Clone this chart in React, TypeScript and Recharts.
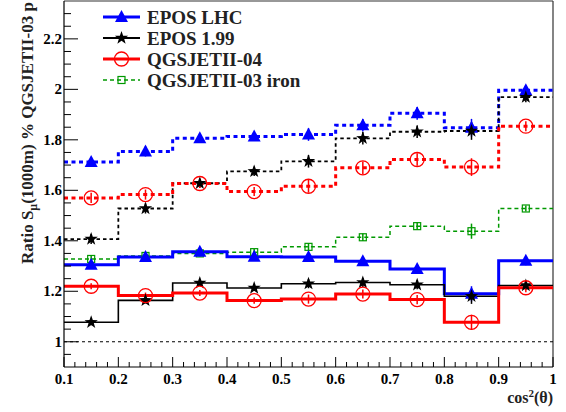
import React from 'react';
import { ComposedChart, Line, Scatter, ErrorBar, XAxis, YAxis, ReferenceLine } from 'recharts';

// histogram bins in cos^2(theta)
const binEdges = [0.1, 0.2, 0.3, 0.4, 0.5, 0.6, 0.7, 0.8, 0.9, 1.0];
const binCenters = [0.15, 0.25, 0.35, 0.45, 0.55, 0.65, 0.75, 0.85, 0.95];

// dotted curves (upper group)
const eposLhcUpper = [1.712, 1.754, 1.806, 1.813, 1.821, 1.858, 1.905, 1.848, 1.996];
const epos199Upper = [1.407, 1.528, 1.628, 1.675, 1.715, 1.806, 1.832, 1.835, 1.969];
const qgs04Upper = [1.57, 1.583, 1.627, 1.595, 1.616, 1.689, 1.722, 1.692, 1.854];
// dashed green
const qgs03Iron = [1.328, 1.34, 1.35, 1.355, 1.376, 1.414, 1.458, 1.438, 1.528];
// solid curves (lower group)
const eposLhcLower = [1.305, 1.336, 1.357, 1.337, 1.336, 1.319, 1.288, 1.19, 1.321];
const epos199Lower = [1.077, 1.164, 1.233, 1.213, 1.23, 1.235, 1.226, 1.18, 1.223];
const qgs04Lower = [1.22, 1.183, 1.193, 1.163, 1.169, 1.189, 1.167, 1.077, 1.214];

// statistical errors
const errUpper = [0.02, 0.02, 0.018, 0.018, 0.025, 0.025, 0.025, 0.035, 0.02];
const errIron = [0.012, 0.012, 0.012, 0.012, 0.015, 0.015, 0.015, 0.03, 0.012];
const errLower = [0.012, 0.012, 0.012, 0.012, 0.018, 0.018, 0.018, 0.03, 0.018];

const legendNames = ['EPOS LHC', 'EPOS 1.99', 'QGSJETII-04', 'QGSJETII-03 iron'];

const yTicks = Array.from({ length: 28 }, (_, i) => Math.round((0.95 + i * 0.05) * 100) / 100);
const xTicks = Array.from({ length: 46 }, (_, i) => Math.round((0.1 + i * 0.02) * 100) / 100);

const FONT = '"Liberation Serif", "Times New Roman", serif';
const BLUE = '#0000ff';
const RED = '#ff0000';
const GREEN = '#009900';

const lineData = binEdges.map((x, i) => {
  const k = Math.min(i, binCenters.length - 1);
  return {
    x,
    lhcU: eposLhcUpper[k],
    e199U: epos199Upper[k],
    q04U: qgs04Upper[k],
    iron: qgs03Iron[k],
    lhcL: eposLhcLower[k],
    e199L: epos199Lower[k],
    q04L: qgs04Lower[k],
  };
});

const points = (vals: number[], errs: number[]) =>
  binCenters.map((x, i) => ({ x, y: vals[i], e: errs[i] }));

const Triangle = ({ cx, cy }: any) => (
  <polygon points={`${cx},${cy - 7} ${cx - 6.5},${cy + 5} ${cx + 6.5},${cy + 5}`} fill={BLUE} />
);

const Star = ({ cx, cy }: any) => {
  const pts: string[] = [];
  for (let i = 0; i < 10; i++) {
    const r = i % 2 === 0 ? 7 : 2.8;
    const a = -Math.PI / 2 + (i * Math.PI) / 5;
    pts.push(`${cx + r * Math.cos(a)},${cy + r * Math.sin(a)}`);
  }
  return <polygon points={pts.join(' ')} fill="#000" />;
};

const OpenCircle = ({ cx, cy }: any) => (
  <circle cx={cx} cy={cy} r={7} fill="none" stroke={RED} strokeWidth={1.3} />
);

const OpenSquare = ({ cx, cy }: any) => (
  <rect x={cx - 3.5} y={cy - 3.5} width={7} height={7} fill="none" stroke={GREEN} strokeWidth={1.2} />
);

const YTick = ({ x, y, payload }: any) => {
  const v = payload.value;
  const major = Math.abs(v * 5 - Math.round(v * 5)) < 1e-6;
  return (
    <g>
      <line x1={x} x2={x + (major ? 14 : 7)} y1={y} y2={y} stroke="#000" strokeWidth={1} />
      {major && (
        <text x={x - 2} y={y} dy={5} textAnchor="end" fontFamily={FONT} fontWeight="bold" fontSize={15} fill="#000">
          {String(Math.round(v * 10) / 10)}
        </text>
      )}
    </g>
  );
};

const XTick = ({ x, y, payload }: any) => {
  const v = payload.value;
  const major = Math.abs(v * 10 - Math.round(v * 10)) < 1e-6;
  return (
    <g>
      <line x1={x} x2={x} y1={y} y2={y - (major ? 10 : 5)} stroke="#000" strokeWidth={1} />
      {major && (
        <text x={x} y={y} dy={17} textAnchor="middle" fontFamily={FONT} fontWeight="bold" fontSize={15} fill="#000">
          {String(Math.round(v * 10) / 10)}
        </text>
      )}
    </g>
  );
};

const Legend = () => {
  const rows = [
    { stroke: BLUE, width: 3, dash: undefined, Marker: Triangle },
    { stroke: '#000', width: 2, dash: undefined, Marker: Star },
    { stroke: RED, width: 3, dash: undefined, Marker: OpenCircle },
    { stroke: GREEN, width: 1.5, dash: '4 3', Marker: OpenSquare },
  ];
  return (
    <svg width={566} height={100} style={{ position: 'absolute', left: 0, top: 0, pointerEvents: 'none' }}>
      {rows.map((r, i) => {
        const cy = 17 + i * 21;
        const M = r.Marker;
        return (
          <g key={i}>
            <line x1={103} x2={140} y1={cy} y2={cy} stroke={r.stroke} strokeWidth={r.width} strokeDasharray={r.dash} />
            <M cx={121.5} cy={cy} />
            <text x={147} y={cy + 7} fontFamily={FONT} fontWeight="bold" fontSize={19} fill="#222">
              {legendNames[i]}
            </text>
          </g>
        );
      })}
    </svg>
  );
};

const YTitle = () => (
  <text
    x={33}
    y={264}
    transform="rotate(-90, 33, 264)"
    fontFamily={FONT}
    fontWeight="bold"
    fontSize={17}
    fill="#222"
  >
    Ratio S<tspan dy={4} fontSize={12}>μ</tspan>
    <tspan dy={-4}>(1000m) % QGSJETII-03 p</tspan>
  </text>
);

const XTitle = () => (
  <text x={553} y={403} textAnchor="end" fontFamily={FONT} fontWeight="bold" fontSize={16} fill="#222">
    cos<tspan dy={-6} fontSize={11}>2</tspan>
    <tspan dy={6}>(θ)</tspan>
  </text>
);

export default function App() {
  const series = [
    { key: 'lhcU', color: BLUE, w: 3, dash: '4 3.5', vals: eposLhcUpper, errs: errUpper, shape: Triangle },
    { key: 'e199U', color: '#000', w: 1.8, dash: '3.5 3', vals: epos199Upper, errs: errUpper, shape: Star },
    { key: 'q04U', color: RED, w: 3, dash: '4 3.5', vals: qgs04Upper, errs: errUpper, shape: OpenCircle },
    { key: 'iron', color: GREEN, w: 1.5, dash: '4 3', vals: qgs03Iron, errs: errIron, shape: OpenSquare },
    { key: 'lhcL', color: BLUE, w: 3, dash: undefined, vals: eposLhcLower, errs: errLower, shape: Triangle },
    { key: 'e199L', color: '#000', w: 1.6, dash: undefined, vals: epos199Lower, errs: errLower, shape: Star },
    { key: 'q04L', color: RED, w: 3, dash: undefined, vals: qgs04Lower, errs: errLower, shape: OpenCircle },
  ];

  return (
    <div style={{ position: 'absolute', left: 0, top: 0, width: 566, height: 412, background: '#fff' }}>
      <ComposedChart width={566} height={412} data={lineData} margin={{ top: 1, right: 13, bottom: 0, left: 0 }}>
        <XAxis
          dataKey="x"
          type="number"
          domain={[0.1, 1]}
          ticks={xTicks}
          interval={0}
          allowDataOverflow
          height={45}
          tickSize={0}
          tickMargin={0}
          tickLine={false}
          axisLine={{ stroke: '#000', strokeWidth: 1.2 }}
          tick={<XTick />}
          label={{ content: () => <XTitle /> }}
        />
        <YAxis
          type="number"
          domain={[0.9, 2.35]}
          ticks={yTicks}
          interval={0}
          allowDataOverflow
          width={64}
          tickSize={0}
          tickMargin={0}
          tickLine={false}
          axisLine={{ stroke: '#000', strokeWidth: 1.2 }}
          tick={<YTick />}
          label={{ content: () => <YTitle /> }}
        />
        <ReferenceLine x={1} stroke="#333" strokeWidth={1.2} />
        <ReferenceLine y={2.35} stroke="#333" strokeWidth={1.2} />
        <ReferenceLine y={1} stroke="#000" strokeWidth={1} strokeDasharray="3 3" />
        {series.map((s) => (
          <Line
            key={s.key}
            dataKey={s.key}
            type="stepAfter"
            stroke={s.color}
            strokeWidth={s.w}
            strokeDasharray={s.dash}
            dot={false}
            activeDot={false}
            isAnimationActive={false}
          />
        ))}
        {series.map((s) => {
          const Shape = s.shape;
          return (
            <Scatter
              key={`pts-${s.key}`}
              data={points(s.vals, s.errs)}
              dataKey="y"
              isAnimationActive={false}
              shape={(p: any) => <Shape cx={p.cx} cy={p.cy} />}
            >
              <ErrorBar dataKey="e" direction="y" width={0} stroke={s.color} strokeWidth={1.5} />
            </Scatter>
          );
        })}
      </ComposedChart>
      <Legend />
    </div>
  );
}
